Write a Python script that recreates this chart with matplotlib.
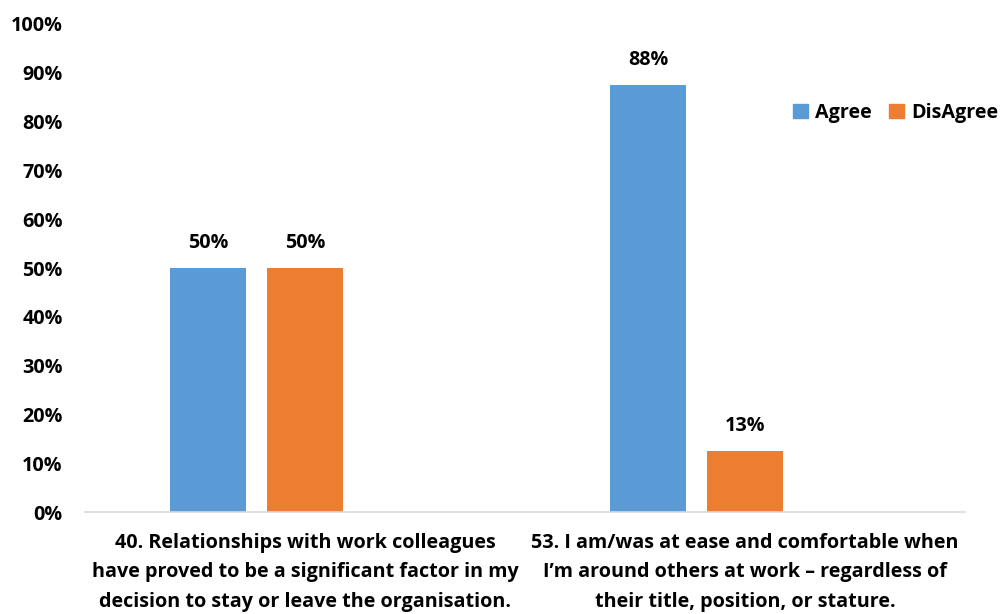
import matplotlib
matplotlib.use("Agg")
import matplotlib.pyplot as plt
import numpy as np
from matplotlib.patches import Patch

categories = [
    "40. Relationships with work colleagues\nhave proved to be a significant factor in my\ndecision to stay or leave the organisation.",
    "53. I am/was at ease and comfortable when\nI\u2019m around others at work \u2013 regardless of\ntheir title, position, or stature.",
]
series_names = ["Agree", "DisAgree"]
agree = [50.0, 87.5]
disagree = [50.0, 12.5]
y_ticks = [0, 10, 20, 30, 40, 50, 60, 70, 80, 90, 100]

colors = ["#5B9BD5", "#ED7D31"]
font = ["Open Sans", "DejaVu Sans"]
fs = 14.2

fig = plt.figure(figsize=(10, 6.14), dpi=100)
ax = fig.add_axes([0.085, 0.166, 0.88, 0.795])

x = np.arange(len(categories))
# three series slots per category (third slot left empty)
slot = 0.2205
width = 0.1727
offsets = [-slot, 0.0]

for vals, off, col in zip([agree, disagree], offsets, colors):
    bars = ax.bar(x + off, vals, width=width, color=col, zorder=2)
    for b, v in zip(bars, vals):
        ax.annotate(f"{np.floor(v + 0.5):.0f}%",
                    (b.get_x() + b.get_width() / 2, v),
                    xytext=(0, 18), textcoords="offset points",
                    ha="center", va="center", fontsize=fs,
                    fontweight="bold", family=font, color="#000000")

ax.set_xlim(-0.5, 1.5)
ax.set_ylim(0, 100)
ax.set_yticks(y_ticks)
ax.set_yticklabels([f"{t}%" for t in y_ticks], fontsize=fs,
                   fontweight="bold", family=font)
ax.set_xticks(x)
ax.set_xticklabels(categories, fontsize=fs, fontweight="bold",
                   family=font, linespacing=1.62)
ax.tick_params(axis="both", length=0, colors="#000000")
ax.tick_params(axis="y", pad=16)
ax.tick_params(axis="x", pad=15)

for s in ["top", "right", "left"]:
    ax.spines[s].set_visible(False)
ax.spines["bottom"].set_color("#D9D9D9")
ax.spines["bottom"].set_linewidth(1.2)

handles = [Patch(color=c, label=n) for c, n in zip(colors, series_names)]
leg = fig.legend(handles=handles, loc="center right",
                 bbox_to_anchor=(0.998, 0.816), ncol=2, frameon=False,
                 prop={"family": font, "weight": "bold", "size": fs},
                 handlelength=0.75, handleheight=0.75, handletextpad=0.35,
                 columnspacing=0.9, borderpad=0, borderaxespad=0)

fig.savefig("out.png", dpi=100)
